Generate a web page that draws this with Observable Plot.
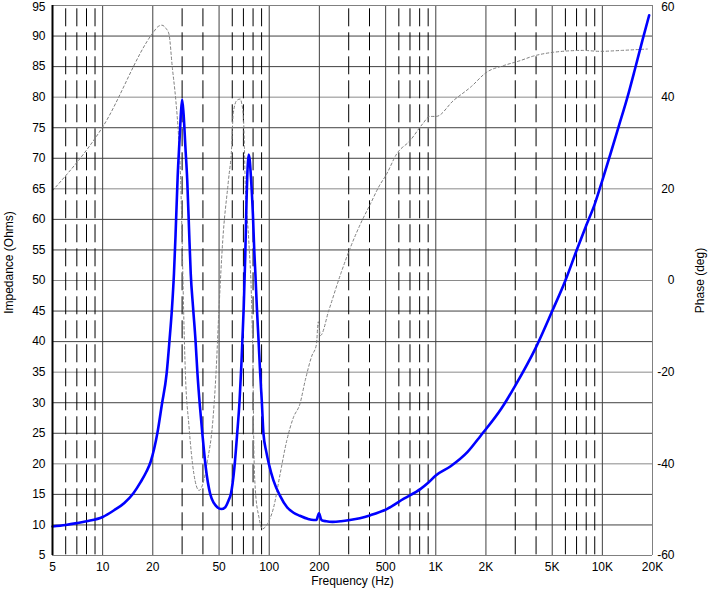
<!DOCTYPE html>
<html>
<head>
<meta charset="utf-8">
<script src="https://cdn.jsdelivr.net/npm/d3@7"></script>
<script src="https://cdn.jsdelivr.net/npm/@observablehq/plot@0.6"></script>
<style>
  body { margin: 0; background: #fff; }
  #chart svg { display: block; }
</style>
</head>
<body>
<div id="chart"></div>
<script>
// Impedance curve (Hz, Ohms)
const impFreq = [5, 6, 7, 8, 10, 11.7, 13.5, 15.3, 16.9, 18.3, 19.4, 20.4, 21.3, 22.7, 24.2, 25.2, 26.1, 26.8, 27.4, 28.2, 29.0, 29.5, 30.0, 30.6, 31.4, 32.2, 33.0, 33.8, 34.9, 36.1, 37.1, 38.4, 39.7, 41.6, 44.2, 46.5, 48.8, 51.5, 54.5, 57, 58.9, 61.8, 64.2, 66.4, 68.0, 69.0, 70.3, 71.8, 73.0, 74.2, 75.2, 76.3, 77.9, 79.8, 81.3, 82.6, 84.3, 86.3, 88.3, 90.2, 92.4, 96, 99.5, 106, 116, 128, 140, 153, 170, 185, 192, 199, 206, 220, 240, 270, 305, 350, 406, 508, 643, 811, 900, 1000, 1228, 1547, 1860, 2470, 3000, 4000, 5000, 6000, 7000, 8000, 9000, 10000, 11180, 12500, 14150, 15800, 17400, 19100];
const impOhms = [9.75, 10.0, 10.3, 10.6, 11.3, 12.4, 13.6, 15.2, 17.0, 18.7, 20.3, 22.5, 25.0, 29.8, 34.7, 40.2, 45.6, 51.1, 57.5, 66.9, 73.4, 77.3, 79.6, 77.3, 71.8, 66.4, 58.5, 51.1, 45.6, 40.2, 34.7, 29.3, 24.9, 19.4, 15.1, 13.6, 12.9, 12.6, 12.9, 14.0, 15.1, 19.4, 24.9, 30.4, 36.0, 40.2, 45.6, 54.0, 62.5, 68.5, 70.6, 69.8, 66.4, 60.9, 55.0, 51.1, 45.6, 40.2, 34.7, 30.4, 24.9, 22.0, 20.0, 17.3, 14.8, 12.9, 12.0, 11.5, 11.0, 10.8, 10.8, 11.9, 10.8, 10.6, 10.5, 10.6, 10.8, 11.1, 11.6, 12.6, 14.3, 15.9, 16.9, 18.1, 19.6, 21.9, 24.6, 29.0, 32.8, 39.1, 45.0, 50.0, 54.9, 59.0, 62.5, 66.4, 70.7, 75.1, 80.0, 84.9, 89.3, 93.4];

// Phase curve (Hz, degrees)
const phaseFreq = [5, 10, 20.2, 21.5, 22.7, 24, 25, 26.2, 27.5, 28.5, 29.4, 30.0, 30.6, 31.4, 32.9, 35.3, 37.9, 40.5, 42.6, 45.7, 47.9, 50, 52.6, 56.9, 59.5, 60.8, 63.9, 66.9, 68.4, 70, 71, 71.7, 75.3, 78.5, 80, 80.7, 82.6, 86.7, 90.9, 97.5, 106.3, 116.3, 127.5, 140, 153, 164.5, 180, 192, 197, 203, 228, 269, 308, 361, 405, 454, 508, 582, 700, 835, 920, 1005, 1280, 1620, 2030, 2560, 3230, 3800, 5100, 7700, 9680, 13000, 18600];
const phaseDeg = [19.6, 33.5, 54.2, 55.4, 55.7, 55.0, 53.8, 46.5, 39.3, 32, 22, 9, -5.8, -20.4, -31.3, -42.2, -45.8, -43.6, -39.3, -31.3, -20.4, -5.8, 8.7, 21.8, 29.1, 36.4, 39.3, 39.6, 38.6, 35.6, 29.1, 21.8, 9, -5.8, -20.4, -34.9, -45.8, -51.6, -54.2, -53.1, -49.5, -42.2, -34.9, -29.8, -26.9, -21.8, -16.5, -14, -9, -12, -6.5, 1.5, 7.3, 13.1, 16.7, 20.4, 23.3, 27.6, 30.5, 34.2, 35.8, 35.8, 39.3, 42.2, 45.5, 46.9, 48, 48.9, 49.8, 50.2, 50, 50.2, 50.5];

// Axis ticks
const xTicks = [5, 10, 20, 50, 100, 200, 500, 1000, 2000, 5000, 10000, 20000];
const xTickLabels = ["5", "10", "20", "50", "100", "200", "500", "1K", "2K", "5K", "10K", "20K"];
const impTicks = [5, 10, 15, 20, 25, 30, 35, 40, 45, 50, 55, 60, 65, 70, 75, 80, 85, 90, 95];
const phaseTicks = [-60, -40, -20, 0, 20, 40, 60];
const majorFreqs = [10, 20, 50, 100, 200, 500, 1000, 2000, 5000, 10000];
const minorFreqs = [6, 7, 8, 9, 30, 40, 60, 70, 80, 90, 300, 400, 600, 700, 800, 900, 3000, 4000, 6000, 7000, 8000, 9000];

// Right axis (phase -60..60) shares the impedance scale (5..95)
const phaseToZ = p => 50 + p * 0.75;

const imp = impFreq.map((f, i) => ({f, z: impOhms[i]}));
const phase = phaseFreq.map((f, i) => ({f, z: phaseToZ(phaseDeg[i])}));
const phaseGridZ = phaseTicks.map(phaseToZ);
const impGrid = impTicks.filter(z => z > 5 && z < 95 && !phaseGridZ.includes(z));
const phaseGrid = phaseGridZ.filter(z => z > 5 && z < 95);
const xLabels = xTicks.map((t, i) => ({t, label: xTickLabels[i]}));
const impTop = impTicks[impTicks.length - 1];
const phaseTop = phaseTicks[phaseTicks.length - 1];

const chart = Plot.plot({
  width: 710,
  height: 595,
  marginLeft: 52,
  marginRight: 58,
  marginTop: 5,
  marginBottom: 40,
  x: {type: "log", domain: [5, 20000], axis: null},
  y: {domain: [5, 95], axis: null},
  style: {fontFamily: "'Liberation Sans', Arial, sans-serif", fontSize: "12px", color: "#000", background: "#fff"},
  marks: [
    Plot.ruleY(impGrid, {stroke: "#404040", strokeWidth: 1, strokeOpacity: 1}),
    Plot.ruleY(phaseGrid, {stroke: "#8a8a8a", strokeWidth: 1, strokeOpacity: 1}),
    Plot.ruleX(minorFreqs, {stroke: "#000", strokeWidth: 1, strokeOpacity: 1, strokeDasharray: "18,6", strokeDashoffset: 20.7}),
    Plot.ruleX(majorFreqs, {stroke: "#404040", strokeWidth: 1, strokeOpacity: 1}),
    // frame
    Plot.ruleY([95], {stroke: "#808080", strokeWidth: 1}),
    Plot.ruleY([5], {stroke: "#808080", strokeWidth: 1}),
    Plot.ruleX([20000], {stroke: "#808080", strokeWidth: 1}),
    // curves
    Plot.line(phase, {x: "f", y: "z", stroke: "#808080", strokeWidth: 1, strokeDasharray: "2.5,2.5", curve: "monotone-x"}),
    Plot.line(imp, {x: "f", y: "z", stroke: "#0000ff", strokeWidth: 2.6, curve: "monotone-x"}),
    Plot.ruleX([5], {stroke: "#000", strokeWidth: 2}),
    // left axis (impedance)
    Plot.text(impTicks.filter(d => d !== impTop), {y: d => d, frameAnchor: "left", textAnchor: "end", dx: -7, fill: "#000"}),
    Plot.text([impTop], {y: d => d, frameAnchor: "left", textAnchor: "end", dx: -7, dy: 2, fill: "#000"}),
    // right axis (phase)
    Plot.text(phaseTicks.filter(d => d !== phaseTop), {y: d => phaseToZ(d), text: d => String(d), frameAnchor: "right", textAnchor: "end", dx: 22, fill: "#000"}),
    Plot.text([phaseTop], {y: d => phaseToZ(d), text: d => String(d), frameAnchor: "right", textAnchor: "end", dx: 22, dy: 2, fill: "#000"}),
    // bottom axis (frequency)
    Plot.text(xLabels, {x: "t", text: "label", frameAnchor: "bottom", lineAnchor: "top", dy: 7, fill: "#000"}),
    // axis titles
    Plot.text(["Impedance (Ohms)"], {frameAnchor: "left", textAnchor: "middle", rotate: -90, dx: -43, dy: -18, fill: "#000"}),
    Plot.text(["Phase (deg)"], {frameAnchor: "right", textAnchor: "middle", rotate: -90, dx: 48, fill: "#000"}),
    Plot.text(["Frequency (Hz)"], {frameAnchor: "bottom", dy: 29, fill: "#000"})
  ]
});
document.getElementById("chart").append(chart);
</script>
</body>
</html>
